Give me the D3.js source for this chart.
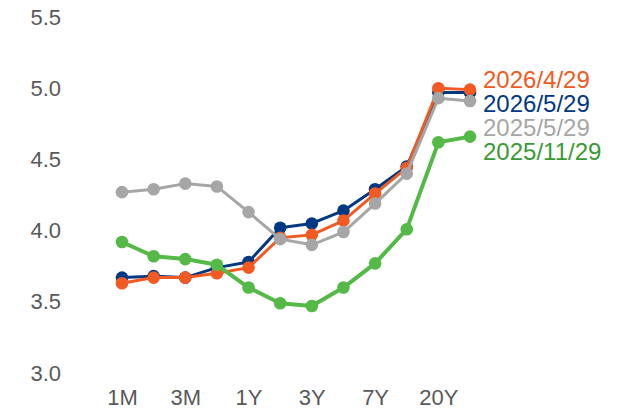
<!DOCTYPE html>
<html>
<head>
<meta charset="utf-8">
<script src="https://cdn.jsdelivr.net/npm/d3@7"></script>
<style>
  html, body { margin: 0; padding: 0; background: #fff; }
  svg { display: block; font-family: "Liberation Sans", Arial, sans-serif; }
</style>
</head>
<body>
<svg id="chart" width="631" height="417"></svg>
<script>
const categories = ["1M","2M","3M","6M","1Y","2Y","3Y","5Y","7Y","10Y","20Y","30Y"];
const tickLabels = ["1M","3M","1Y","3Y","7Y","20Y"];
const yTicks = [3.0, 3.5, 4.0, 4.5, 5.0, 5.5];

const s20260529 = [3.67, 3.68, 3.67, 3.74, 3.78, 4.02, 4.05, 4.14, 4.29, 4.45, 4.97, 4.97];
const s20260429 = [3.63, 3.67, 3.67, 3.70, 3.74, 3.95, 3.97, 4.07, 4.26, 4.44, 5.00, 4.99];
const s20250529 = [4.27, 4.29, 4.33, 4.31, 4.13, 3.94, 3.90, 3.99, 4.19, 4.40, 4.93, 4.91];
const s20251129 = [3.92, 3.82, 3.80, 3.76, 3.60, 3.49, 3.47, 3.60, 3.77, 4.01, 4.62, 4.66];

const seriesNames = ["2026/4/29", "2026/5/29", "2025/5/29", "2025/11/29"];

const series = [
  { name: "2026/5/29", values: s20260529, color: "#003882", text: "#003882", width: 3 },
  { name: "2026/4/29", values: s20260429, color: "#F15A22", text: "#F15A22", width: 3 },
  { name: "2025/5/29", values: s20250529, color: "#A6A6A6", text: "#A6A6A6", width: 3 },
  { name: "2025/11/29", values: s20251129, color: "#55B947", text: "#3A9A35", width: 4 }
];

const svg = d3.select("#chart");

const x = d3.scalePoint().domain(categories).range([122, 470]);
const y = d3.scaleLinear().domain([3.0, 5.5]).range([373, 17]);

const yAxis = d3.axisLeft(y).tickValues(yTicks).tickFormat(d3.format(".1f")).tickSize(0).tickPadding(0);
const gy = svg.append("g").attr("transform", "translate(61,0)").call(yAxis);
gy.select(".domain").remove();
gy.selectAll("text").attr("font-size", 22).attr("fill", "#595959")
  .attr("font-family", "Liberation Sans, Arial, sans-serif");

const xAxis = d3.axisBottom(x).tickValues(tickLabels).tickSize(0).tickPadding(0);
const gx = svg.append("g").attr("transform", "translate(0,389)").call(xAxis);
gx.select(".domain").remove();
gx.selectAll("text").attr("font-size", 22).attr("fill", "#595959")
  .attr("font-family", "Liberation Sans, Arial, sans-serif");

const line = d3.line().x((d, i) => x(categories[i])).y(d => y(d));

series.forEach(s => {
  const g = svg.append("g");
  g.append("path").datum(s.values).attr("d", line)
    .attr("fill", "none").attr("stroke", s.color).attr("stroke-width", s.width)
    .attr("stroke-linejoin", "round");
  g.selectAll("circle").data(s.values).enter().append("circle")
    .attr("cx", (d, i) => x(categories[i])).attr("cy", d => y(d))
    .attr("r", 6.3).attr("fill", s.color);
});

const legendY = d3.scalePoint().domain(seriesNames).range([88, 160]);
seriesNames.forEach(n => {
  const s = series.find(t => t.name === n);
  svg.append("text").attr("x", 483).attr("y", legendY(n))
    .attr("font-size", 24).attr("fill", s.text).text(n);
});
</script>
</body>
</html>
